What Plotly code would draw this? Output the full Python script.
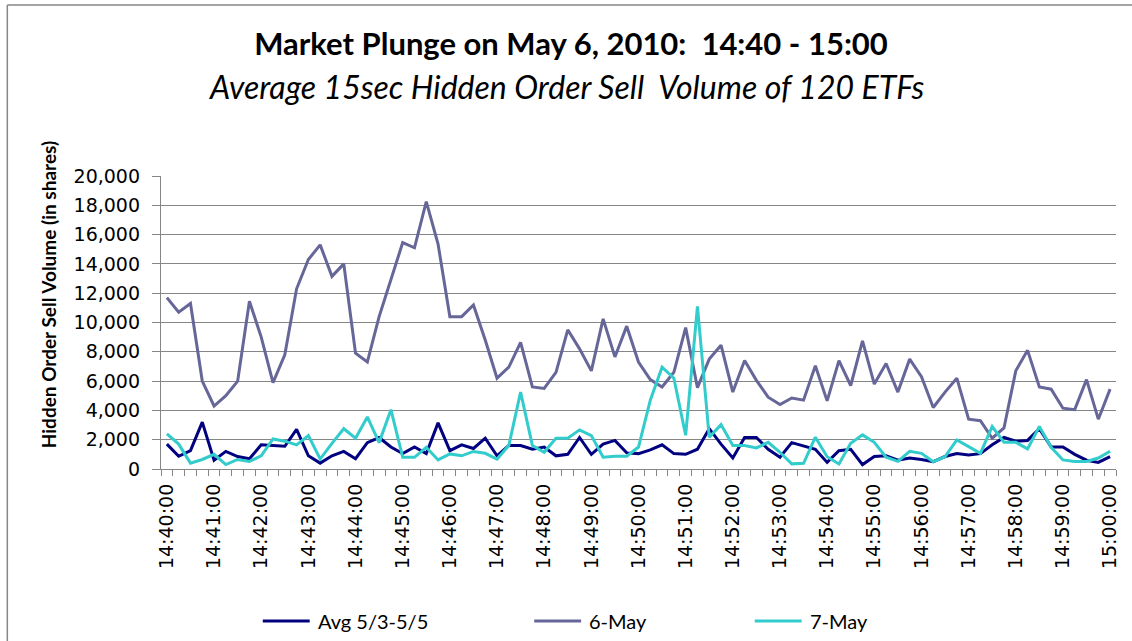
import plotly.graph_objects as go
import pandas as pd

# ---------------- data ----------------
times = pd.date_range("2010-05-06 14:40:00", "2010-05-06 15:00:00", freq="15s")

avg_53_55 = [1700, 870, 1250, 3200, 600, 1200, 850, 700, 1650, 1600, 1550, 2700, 900,
             400, 900, 1200, 700, 1800, 2150, 1500, 1050, 1500, 1050, 3150, 1250, 1650, 1400,
             2100, 900, 1600, 1600, 1350, 1500, 900, 1000, 2150, 1000, 1700, 1950, 1100, 1050,
             1300, 1650, 1050, 1000, 1350, 2750, 1700, 750, 2150, 2150, 1350, 800, 1800,
             1600, 1350, 450, 1250, 1350, 300, 850, 900, 600, 750, 650, 500, 850, 1050,
             950, 1050, 1650, 2150, 1900, 1950, 2750, 1500, 1500, 1000, 600, 450, 850]

may6 = [11700, 10700, 11300, 6000, 4300, 5000, 6000, 11450, 9000, 5900, 7800, 12300, 14300,
        15300, 13150, 14000, 7900, 7300, 10400, 13000, 15450, 15100, 18250, 15350, 10400, 10400, 11200,
        8800, 6200, 6950, 8650, 5600, 5500, 6600, 9500, 8200, 6700, 10250, 7650, 9750, 7300,
        6100, 5600, 6600, 9650, 5550, 7500, 8450, 5250, 7400, 6050, 4900, 4400, 4850,
        4700, 7050, 4650, 7400, 5700, 8750, 5800, 7200, 5250, 7500, 6300, 4200, 5250, 6200,
        3400, 3300, 2100, 2800, 6700, 8100, 5600, 5450, 4150, 4050, 6100, 3400, 5450]

may7 = [2400, 1700, 400, 650, 1000, 300, 650, 520, 900, 2050, 1900, 1650, 2280,
        680, 1750, 2750, 2100, 3550, 1800, 4050, 800, 800, 1480, 620, 1030, 900, 1200,
        1070, 680, 1600, 5250, 1600, 1140, 2100, 2100, 2670, 2280, 800, 870, 870, 1500,
        4700, 6950, 6200, 2300, 11100, 2170, 3030, 1600, 1600, 1440, 1820, 1140, 350,
        390, 2170, 840, 340, 1760, 2330, 1820, 800, 520, 1210, 1070, 500, 840, 1980,
        1530, 1070, 2900, 1820, 1820, 1370, 2900, 1480, 620, 520, 520, 750, 1210]

series_names = ["Avg 5/3-5/5", "6-May", "7-May"]
series_values = [avg_53_55, may6, may7]
series_colors = ["#000080", "#666699", "#33CCCC"]

title_text = "Market Plunge on May 6, 2010:\u00a0 14:40 - 15:00"
subtitle_text = "Average 15sec Hidden Order Sell\u00a0 Volume of 120 ETFs"
y_title = "Hidden Order Sell Volume (in shares)"

# ---------------- layout geometry ----------------
W, H = 1132, 641
L, R, T, B = 161, 1118, 176, 469
GRAY = "#868686"


def px(x):
    return (x - L) / (R - L)


def py(y):
    return (B - y) / (B - T)


fig = go.Figure()
for name, vals, col in zip(series_names, series_values, series_colors):
    fig.add_trace(go.Scatter(x=times, y=vals, mode="lines", name=name,
                             line=dict(color=col, width=3), showlegend=False))

tick_font = dict(family="DejaVu Sans", size=19, color="#000000")

fig.update_layout(
    width=W, height=H, autosize=False,
    margin=dict(l=L, r=W - R, t=T, b=H - B, pad=0),
    paper_bgcolor="white", plot_bgcolor="white",
    title=dict(text="<b>" + title_text + "</b>", x=571 / W, xanchor="center",
               y=1 - 44 / H, yanchor="middle", yref="container",
               font=dict(family="Lato", size=31, color="#000000")),
    xaxis=dict(
        type="date",
        range=["2010-05-06 14:39:52.5", "2010-05-06 15:00:07.5"],
        tick0="2010-05-06 14:40:00", dtick=60000, tickformat="%H:%M:%S",
        tickangle=-90, tickfont=tick_font,
        ticks="outside", ticklen=6, tickcolor="rgba(0,0,0,0)",
        minor=dict(ticks="outside", tick0="2010-05-06 14:39:52.5", dtick=15000,
                   ticklen=6, tickcolor=GRAY, tickwidth=1.3, showgrid=False),
        showgrid=False, zeroline=False,
        showline=True, linecolor=GRAY, linewidth=1.3,
        fixedrange=True,
    ),
    yaxis=dict(
        range=[0, 20000], dtick=2000, tickformat=",d",
        tickfont=tick_font, ticks="outside", ticklen=8, tickcolor=GRAY, tickwidth=1.3,
        ticklabelstandoff=8,
        showgrid=True, gridcolor=GRAY, gridwidth=1.3,
        zeroline=False, showline=True, linecolor=GRAY, linewidth=1.3,
        fixedrange=True,
    ),
)

annotations = [
    dict(x=px(567), y=py(87), xref="paper", yref="paper", showarrow=False,
         text="<i>" + subtitle_text + "</i>", xanchor="center", yanchor="middle",
         font=dict(family="Lato", size=32, color="#000000")),
    dict(x=px(48), y=py(295), xref="paper", yref="paper", showarrow=False,
         text="<b>" + y_title + "</b>", textangle=-90, xanchor="center", yanchor="middle",
         font=dict(family="Lato", size=19, color="#000000")),
]

shapes = [
    dict(type="line", xref="paper", yref="paper", x0=px(7), x1=px(7), y0=py(5), y1=py(700),
         line=dict(color=GRAY, width=1.5)),
    dict(type="line", xref="paper", yref="paper", x0=px(7), x1=px(1200), y0=py(5), y1=py(5),
         line=dict(color=GRAY, width=1.5)),
]

legend_line_x = [263, 535, 756]
legend_y = 621
for name, col, lx in zip(series_names, series_colors, legend_line_x):
    shapes.append(dict(type="line", xref="paper", yref="paper", x0=px(lx), x1=px(lx + 47),
                       y0=py(legend_y), y1=py(legend_y), line=dict(color=col, width=3)))
    annotations.append(dict(x=px(lx + 53), y=py(legend_y), xref="paper", yref="paper",
                            showarrow=False, text=name, xanchor="left", yanchor="middle",
                            font=dict(family="Lato", size=20, color="#000000")))

fig.update_layout(annotations=annotations, shapes=shapes)

fig.write_html("out.html", config={"displayModeBar": False},
               post_script="document.body.style.margin='0';document.body.style.overflow='hidden';")
